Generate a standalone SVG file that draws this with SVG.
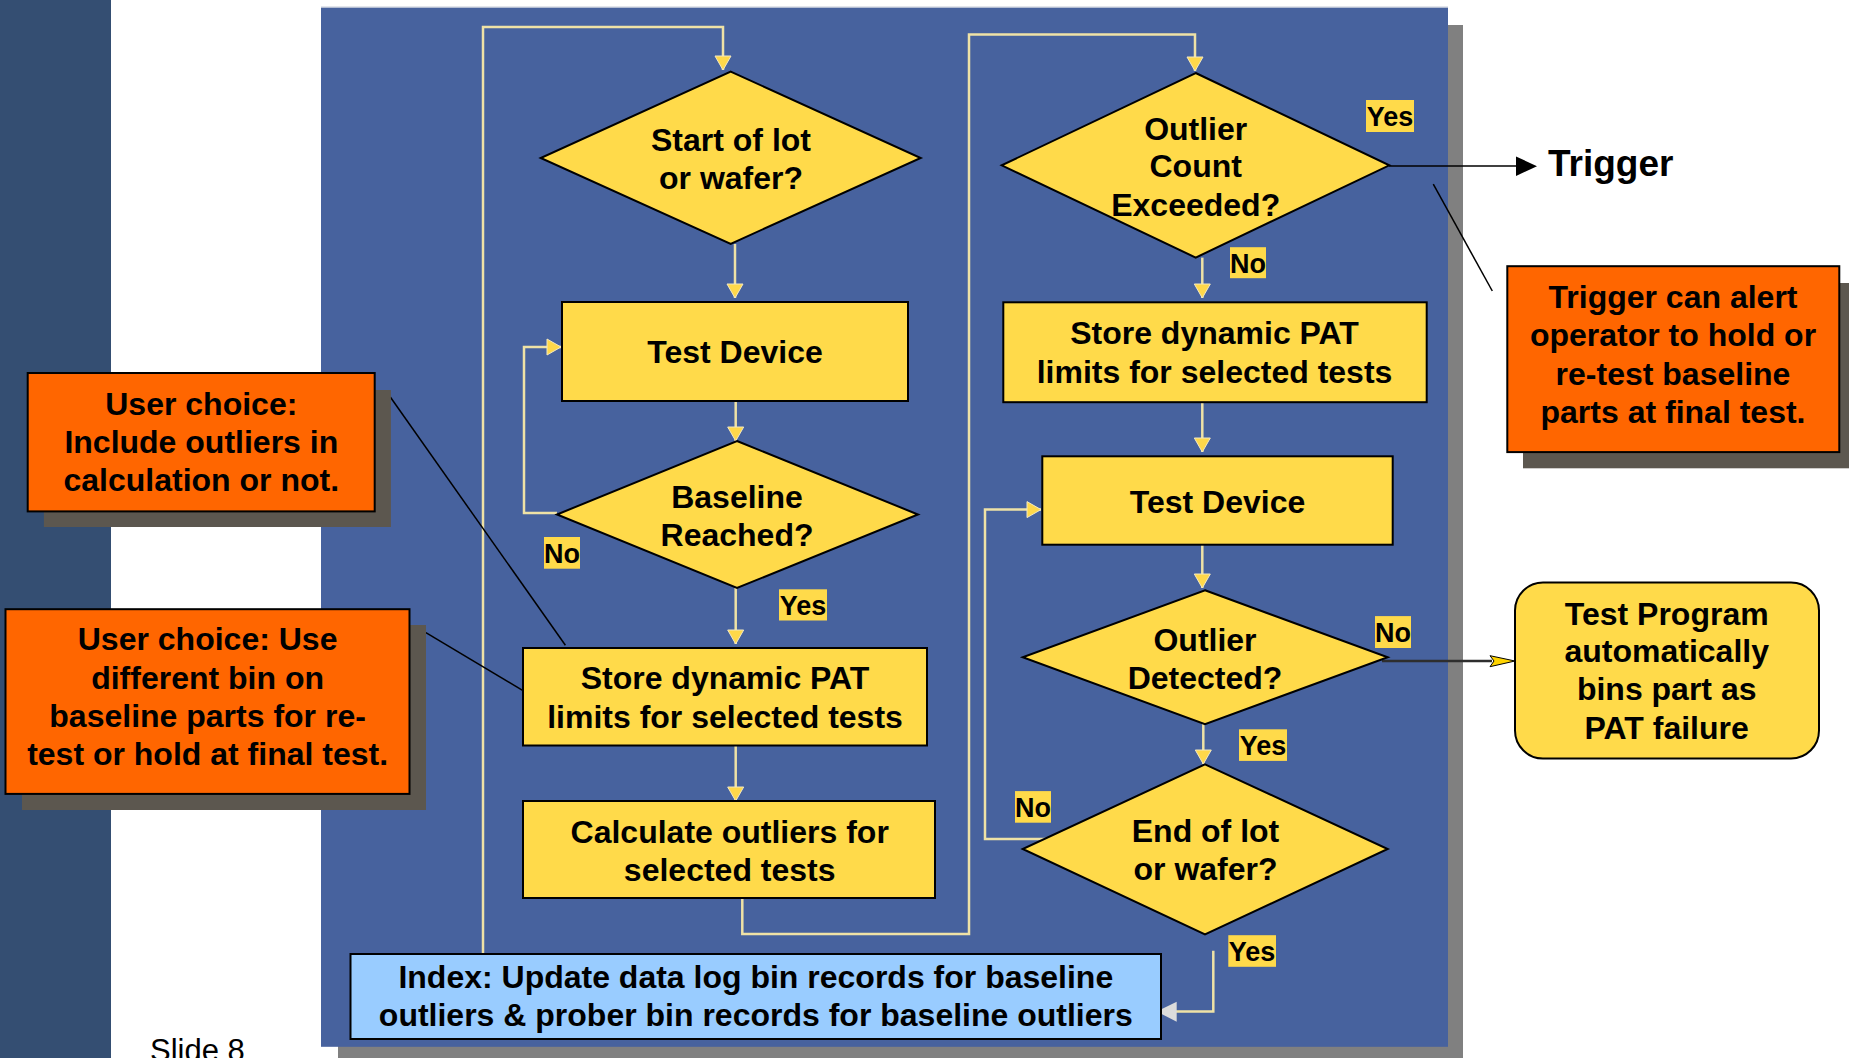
<svg xmlns="http://www.w3.org/2000/svg" width="1849" height="1058" viewBox="0 0 1849 1058">
<style>
text{font-family:"Liberation Sans",Arial,sans-serif;font-weight:bold;fill:#000;text-anchor:middle}
.t32{font-size:32px}
.lbl{font-size:27px}
.node{fill:#ffda4a;stroke:#000;stroke-width:2}
.note{fill:#ff6600;stroke:#000;stroke-width:2}
.nshadow{fill:#5c574f}
.lblbg{fill:#ffda4a}
.conn{fill:none;stroke:#efe2a6;stroke-width:2.5}
.call{fill:none;stroke:#000;stroke-width:1.5}
</style>
<defs>
<marker id="ya" markerUnits="userSpaceOnUse" markerWidth="18" markerHeight="18" refX="14" refY="8" orient="auto" overflow="visible">
<path d="M0,0 L14,8 L0,16 z" fill="#ffd84a" stroke="#f3e8bf" stroke-width="1"/>
</marker>
</defs>
<!-- background -->
<rect x="0" y="0" width="1849" height="1058" fill="#ffffff"/>
<rect x="0" y="0" width="111" height="1058" fill="#344e72"/>
<rect x="338" y="25" width="1125" height="1040" fill="#808080"/>
<rect x="321" y="7.5" width="1127" height="1039.3" fill="#47629e"/>
<line x1="321" y1="7" x2="1448" y2="7" stroke="#c4cad8" stroke-width="1"/>
<text x="150" y="1061" style="font-size:31px;font-weight:normal;text-anchor:start">Slide 8</text>

<g id="connectors">
<path class="conn" d="M483,954 V27 H723 V70" marker-end="url(#ya)"/>
<path class="conn" d="M735,244 V298" marker-end="url(#ya)"/>
<path class="conn" d="M735.7,401 V441" marker-end="url(#ya)"/>
<path class="conn" d="M557,513 H524 V347 H561" marker-end="url(#ya)"/>
<path class="conn" d="M735.7,588 V644" marker-end="url(#ya)"/>
<path class="conn" d="M735.7,745.5 V801" marker-end="url(#ya)"/>
<path class="conn" d="M742.3,898 V934 H969 V34.4 H1195 V71" marker-end="url(#ya)"/>
<path class="conn" d="M1202.3,257.6 V298" marker-end="url(#ya)"/>
<path class="conn" d="M1202.3,402 V452" marker-end="url(#ya)"/>
<path class="conn" d="M1202.3,545 V588" marker-end="url(#ya)"/>
<path class="conn" d="M1203.3,724 V764" marker-end="url(#ya)"/>
<path class="conn" d="M1062,839 H985 V509.6 H1041" marker-end="url(#ya)"/>
<path class="conn" d="M1213.3,950.7 V1011.5 H1176"/>
<polygon points="1156.7,1011.5 1176.7,1001.7 1176.7,1021.7" fill="#dcdcdc"/>
<line x1="1382" y1="661" x2="1492" y2="661" stroke="#2e2e2e" stroke-width="2.5"/>
<polygon points="1490,655.7 1515,661 1490,666.7 1494,661" fill="#ffd400" stroke="#000" stroke-width="1"/>
<line x1="1389" y1="166" x2="1518" y2="166" stroke="#000" stroke-width="1.5"/>
<polygon points="1516,156.5 1537,166.2 1516,176" fill="#000"/>
<line class="call" x1="390.3" y1="397" x2="565.4" y2="645.3"/>
<line class="call" x1="425.9" y1="632.6" x2="523" y2="690.6"/>
<line class="call" x1="1433.3" y1="184.2" x2="1492.3" y2="291"/>
</g>

<g id="start">
<polygon class="node" points="730.7,71.6 920.7,158 730.7,243.8 540.7,158"/>
<text class="t32" x="731" y="150.5">Start of lot</text>
<text class="t32" x="731" y="189.4">or wafer?</text>
</g>
<g id="test1">
<rect class="node" x="562" y="302" width="346" height="99"/>
<text class="t32" x="735" y="363">Test Device</text>
</g>
<g id="baseline">
<polygon class="node" points="737,441 918,514.5 737,588 557,514.5"/>
<text class="t32" x="737" y="508">Baseline</text>
<text class="t32" x="737" y="546">Reached?</text>
</g>
<g id="store1">
<rect class="node" x="523" y="648" width="404" height="97.5"/>
<text class="t32" x="725" y="688.8">Store dynamic PAT</text>
<text class="t32" x="725" y="727.6">limits for selected tests</text>
</g>
<g id="calc">
<rect class="node" x="523" y="801" width="412" height="97"/>
<text class="t32" x="729.7" y="842.6">Calculate outliers for</text>
<text class="t32" x="729.7" y="881">selected tests</text>
</g>
<g id="index">
<rect x="350.5" y="954" width="810.5" height="85" fill="#99ccff" stroke="#000" stroke-width="2"/>
<text class="t32" x="755.8" y="988.4">Index: Update data log bin records for baseline</text>
<text class="t32" x="755.8" y="1026.2">outliers &amp; prober bin records for baseline outliers</text>
</g>
<g id="count">
<polygon class="node" points="1195.7,73 1389.3,165.3 1195.7,257.6 1001.7,165.3"/>
<text class="t32" x="1195.7" y="139.5">Outlier</text>
<text class="t32" x="1195.7" y="177.3">Count</text>
<text class="t32" x="1195.7" y="216">Exceeded?</text>
</g>
<g id="store2">
<rect class="node" x="1003.3" y="302.3" width="423.4" height="99.9"/>
<text class="t32" x="1214.5" y="344.4">Store dynamic PAT</text>
<text class="t32" x="1214.5" y="383">limits for selected tests</text>
</g>
<g id="test2">
<rect class="node" x="1042.3" y="456.3" width="350.4" height="88.4"/>
<text class="t32" x="1217.5" y="513">Test Device</text>
</g>
<g id="detected">
<polygon class="node" points="1205,590.3 1387.7,657.3 1205,724.2 1022.7,657.3"/>
<text class="t32" x="1205" y="651.4">Outlier</text>
<text class="t32" x="1205" y="689.2">Detected?</text>
</g>
<g id="endlot">
<polygon class="node" points="1205,764.3 1387.7,849 1205,934.5 1022.7,849"/>
<text class="t32" x="1205.5" y="841.9">End of lot</text>
<text class="t32" x="1205.5" y="880.3">or wafer?</text>
</g>
<g id="bins">
<rect class="node" x="1515" y="582.5" width="304" height="176" rx="28" ry="28"/>
<text class="t32" x="1666.7" y="624.7">Test Program</text>
<text class="t32" x="1666.7" y="662.4">automatically</text>
<text class="t32" x="1666.7" y="700.2">bins part as</text>
<text class="t32" x="1666.7" y="739">PAT failure</text>
</g>
<g id="trigger">
<text x="1548" y="175.6" style="font-size:37px;text-anchor:start">Trigger</text>
</g>
<g id="note1">
<rect class="nshadow" x="43.9" y="390" width="347" height="137"/>
<rect class="note" x="27.7" y="373" width="347" height="138.4"/>
<text class="t32" x="201.3" y="415">User choice:</text>
<text class="t32" x="201.3" y="452.8">Include outliers in</text>
<text class="t32" x="201.3" y="490.7">calculation or not.</text>
</g>
<g id="note2">
<rect class="nshadow" x="22" y="625" width="404" height="185"/>
<rect class="note" x="5.5" y="609.2" width="404" height="184.7"/>
<text class="t32" x="207.6" y="650.4">User choice: Use</text>
<text class="t32" x="207.6" y="688.8">different bin on</text>
<text class="t32" x="207.6" y="726.9">baseline parts for re-</text>
<text class="t32" x="207.6" y="765.4">test or hold at final test.</text>
</g>
<g id="note3">
<rect class="nshadow" x="1523" y="283" width="332" height="185.3"/>
<rect class="note" x="1507.3" y="266.2" width="332" height="185.9"/>
<text class="t32" x="1673" y="307.5">Trigger can alert</text>
<text class="t32" x="1673" y="346">operator to hold or</text>
<text class="t32" x="1673" y="384.6">re-test baseline</text>
<text class="t32" x="1673" y="422.9">parts at final test.</text>
</g>
<g id="labels">
<rect class="lblbg" x="544" y="537" width="36" height="31.7"/><text class="lbl" x="562" y="562.5">No</text>
<rect class="lblbg" x="779" y="589.3" width="48" height="31.2"/><text class="lbl" x="803" y="614.5">Yes</text>
<rect class="lblbg" x="1366" y="100" width="48" height="32"/><text class="lbl" x="1390" y="125.5">Yes</text>
<rect class="lblbg" x="1230" y="247.2" width="36" height="31"/><text class="lbl" x="1248" y="272.5">No</text>
<rect class="lblbg" x="1375" y="616.1" width="36" height="31.9"/><text class="lbl" x="1393" y="641.5">No</text>
<rect class="lblbg" x="1239" y="729.3" width="48" height="31.6"/><text class="lbl" x="1263" y="754.5">Yes</text>
<rect class="lblbg" x="1015" y="791.1" width="36" height="31.6"/><text class="lbl" x="1033" y="816.5">No</text>
<rect class="lblbg" x="1228.3" y="935.2" width="47.7" height="31.6"/><text class="lbl" x="1252" y="960.5">Yes</text>
</g>
</svg>
